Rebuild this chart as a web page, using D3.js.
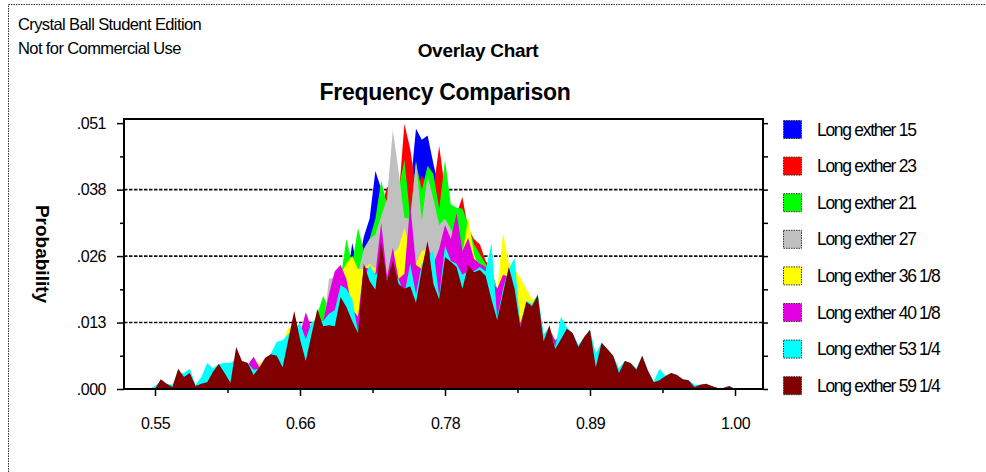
<!DOCTYPE html>
<html>
<head>
<meta charset="utf-8">
<script src="https://cdn.jsdelivr.net/npm/d3@7/dist/d3.min.js"></script>
<style>
  body { margin: 0; background: #fff; }
  svg { display: block; }
  text { font-family: Arial, "Liberation Sans", sans-serif; fill: #000; }
</style>
</head>
<body>
<svg id="chart" width="986" height="472"></svg>
<script>
// Bin centres of the frequency distributions (shared by every forecast)
const bins = [
  0.5455, 0.5500, 0.5545, 0.5590, 0.5635, 0.5680, 0.5725, 0.5770, 0.5815, 0.5860,
  0.5905, 0.5950, 0.5995, 0.6040, 0.6085, 0.6130, 0.6175, 0.6220, 0.6265, 0.6310,
  0.6355, 0.6400, 0.6445, 0.6490, 0.6535, 0.6580, 0.6625, 0.6670, 0.6715, 0.6760,
  0.6805, 0.6850, 0.6895, 0.6940, 0.6985, 0.7030, 0.7075, 0.7120, 0.7165, 0.7210,
  0.7255, 0.7300, 0.7345, 0.7390, 0.7435, 0.7480, 0.7525, 0.7570, 0.7615, 0.7660,
  0.7705, 0.7750, 0.7795, 0.7840, 0.7885, 0.7930, 0.7975, 0.8020, 0.8065, 0.8110,
  0.8155, 0.8200, 0.8245, 0.8290, 0.8335, 0.8380, 0.8425, 0.8470, 0.8515, 0.8560,
  0.8605, 0.8650, 0.8695, 0.8740, 0.8785, 0.8830, 0.8875, 0.8920, 0.8965, 0.9010,
  0.9055, 0.9100, 0.9145, 0.9190, 0.9235, 0.9280, 0.9325, 0.9370, 0.9415, 0.9460,
  0.9505, 0.9550, 0.9595, 0.9640, 0.9685, 0.9730, 0.9775, 0.9820, 0.9865, 0.9910,
  0.9955, 1.0000
];

// Probability per bin for each forecast
const longExther15 = [
  0, .0002, .0010, .0006, .0004, .0019, .0015, .0023, .0004, .0010,
  .0027, .0023, .0035, .0027, .0019, .0046, .0039, .0035, .0035, .0035,
  .0046, .0054, .0064, .0073, .0087, .0096, .0089, .0089, .0100, .0116,
  .0112, .0145, .0173, .0189, .0193, .0281, .0231, .0293, .0328, .0420,
  .0385, .0347, .0356, .0356, .0385, .0385, .0501, .0480, .0488, .0434,
  .0385, .0347, .0328, .0318, .0289, .0270, .0260, .0251, .0231, .0212,
  .0177, .0193, .0193, .0173, .0106, .0145, .0139, .0158, .0081, .0096,
  .0069, .0089, .0100, .0092, .0069, .0087, .0096, .0046, .0077, .0066,
  .0050, .0027, .0042, .0039, .0027, .0050, .0023, .0010, .0013, .0019,
  .0023, .0019, .0013, .0012, .0004, .0004, .0004, .0002, .0002, .0002,
  .0002, 0
];
const longExther23 = [
  0, .0004, .0012, .0006, .0004, .0023, .0019, .0027, .0004, .0012,
  .0031, .0027, .0039, .0031, .0023, .0050, .0042, .0039, .0042, .0039,
  .0050, .0058, .0069, .0077, .0092, .0106, .0096, .0096, .0106, .0119,
  .0116, .0150, .0183, .0193, .0212, .0212, .0231, .0251, .0270, .0289,
  .0347, .0389, .0385, .0366, .0511, .0462, .0385, .0410, .0395, .0385,
  .0468, .0385, .0347, .0337, .0370, .0308, .0289, .0279, .0247, .0231,
  .0189, .0208, .0208, .0183, .0116, .0154, .0150, .0170, .0087, .0106,
  .0073, .0096, .0106, .0100, .0073, .0092, .0100, .0050, .0081, .0069,
  .0054, .0031, .0046, .0042, .0031, .0054, .0027, .0012, .0015, .0021,
  .0027, .0023, .0015, .0013, .0004, .0004, .0004, .0004, .0002, .0002,
  .0004, 0
];
const longExther21 = [
  0, .0004, .0012, .0006, .0004, .0023, .0019, .0027, .0004, .0012,
  .0031, .0027, .0039, .0031, .0023, .0050, .0042, .0039, .0042, .0039,
  .0050, .0058, .0069, .0077, .0092, .0106, .0096, .0096, .0112, .0145,
  .0179, .0154, .0193, .0212, .0289, .0241, .0310, .0266, .0289, .0328,
  .0401, .0356, .0366, .0385, .0441, .0331, .0436, .0383, .0430, .0414,
  .0347, .0441, .0356, .0349, .0347, .0318, .0279, .0260, .0241, .0227,
  .0193, .0212, .0208, .0183, .0116, .0154, .0150, .0170, .0087, .0106,
  .0073, .0096, .0106, .0100, .0073, .0092, .0100, .0050, .0081, .0069,
  .0054, .0031, .0046, .0042, .0031, .0054, .0027, .0012, .0015, .0021,
  .0027, .0023, .0015, .0013, .0004, .0004, .0004, .0004, .0002, .0002,
  .0004, 0
];
const longExther27 = [
  0, .0004, .0012, .0006, .0004, .0023, .0019, .0027, .0004, .0012,
  .0031, .0027, .0039, .0031, .0023, .0050, .0042, .0039, .0042, .0039,
  .0050, .0058, .0069, .0077, .0092, .0106, .0096, .0096, .0106, .0119,
  .0116, .0212, .0216, .0222, .0222, .0241, .0222, .0270, .0289, .0297,
  .0333, .0366, .0499, .0420, .0330, .0328, .0439, .0324, .0410, .0366,
  .0316, .0328, .0308, .0289, .0270, .0260, .0251, .0241, .0231, .0216,
  .0183, .0208, .0212, .0183, .0116, .0154, .0150, .0170, .0087, .0106,
  .0073, .0096, .0106, .0100, .0073, .0092, .0100, .0050, .0081, .0069,
  .0054, .0031, .0046, .0042, .0031, .0054, .0027, .0012, .0015, .0021,
  .0027, .0023, .0015, .0013, .0004, .0004, .0004, .0004, .0002, .0002,
  .0004, 0
];
const longExther36 = [
  0, .0004, .0013, .0008, .0006, .0025, .0021, .0029, .0006, .0013,
  .0035, .0031, .0042, .0035, .0027, .0054, .0046, .0042, .0048, .0050,
  .0054, .0064, .0077, .0087, .0119, .0116, .0100, .0116, .0119, .0135,
  .0125, .0164, .0212, .0222, .0241, .0256, .0231, .0231, .0241, .0231,
  .0270, .0216, .0260, .0272, .0310, .0270, .0241, .0266, .0270, .0247,
  .0227, .0281, .0270, .0289, .0260, .0330, .0260, .0229, .0231, .0222,
  .0189, .0301, .0241, .0231, .0214, .0193, .0173, .0177, .0096, .0116,
  .0077, .0100, .0112, .0104, .0077, .0096, .0106, .0054, .0085, .0073,
  .0058, .0035, .0050, .0046, .0035, .0058, .0031, .0013, .0017, .0023,
  .0029, .0025, .0017, .0015, .0006, .0006, .0006, .0004, .0002, .0002,
  .0004, 0
];
const longExther40 = [
  0, .0004, .0015, .0008, .0006, .0027, .0023, .0031, .0006, .0015,
  .0039, .0035, .0046, .0039, .0029, .0058, .0050, .0046, .0062, .0042,
  .0054, .0064, .0077, .0087, .0100, .0116, .0106, .0148, .0116, .0135,
  .0131, .0183, .0227, .0239, .0212, .0154, .0139, .0235, .0231, .0222,
  .0320, .0216, .0272, .0212, .0222, .0356, .0239, .0231, .0279, .0241,
  .0270, .0316, .0289, .0339, .0266, .0291, .0251, .0241, .0235, .0212,
  .0193, .0220, .0216, .0193, .0127, .0164, .0154, .0173, .0096, .0116,
  .0094, .0106, .0112, .0104, .0077, .0096, .0106, .0058, .0085, .0073,
  .0058, .0035, .0050, .0046, .0035, .0058, .0031, .0013, .0019, .0023,
  .0029, .0025, .0017, .0015, .0006, .0006, .0006, .0004, .0002, .0002,
  .0004, 0
];
const longExther53 = [
  0, .0006, .0015, .0010, .0008, .0029, .0031, .0039, .0008, .0023,
  .0050, .0040, .0048, .0050, .0050, .0058, .0054, .0050, .0037, .0039,
  .0054, .0069, .0091, .0094, .0106, .0116, .0127, .0096, .0129, .0135,
  .0131, .0145, .0152, .0200, .0193, .0173, .0110, .0212, .0239, .0220,
  .0231, .0212, .0216, .0212, .0183, .0241, .0183, .0241, .0251, .0268,
  .0177, .0276, .0247, .0241, .0220, .0227, .0227, .0235, .0227, .0281,
  .0137, .0193, .0231, .0252, .0119, .0170, .0164, .0183, .0106, .0119,
  .0081, .0139, .0119, .0108, .0085, .0100, .0114, .0069, .0089, .0077,
  .0064, .0040, .0054, .0050, .0040, .0064, .0035, .0015, .0039, .0025,
  .0031, .0027, .0019, .0017, .0008, .0008, .0010, .0006, .0002, .0002,
  .0006, 0
];
const longExther59 = [
  0, 0, .0019, .0010, .0004, .0039, .0023, .0031, .0006, .0010,
  .0013, .0033, .0048, .0031, .0012, .0081, .0054, .0050, .0027, .0042,
  .0060, .0067, .0064, .0042, .0096, .0150, .0096, .0054, .0106, .0154,
  .0121, .0123, .0121, .0177, .0158, .0131, .0108, .0241, .0208, .0191,
  .0285, .0208, .0247, .0202, .0193, .0198, .0166, .0231, .0285, .0202,
  .0173, .0254, .0245, .0235, .0193, .0239, .0225, .0229, .0218, .0173,
  .0133, .0185, .0235, .0193, .0119, .0168, .0160, .0181, .0092, .0123,
  .0077, .0096, .0116, .0108, .0081, .0100, .0114, .0042, .0089, .0077,
  .0064, .0031, .0054, .0050, .0037, .0064, .0035, .0013, .0017, .0025,
  .0031, .0027, .0019, .0017, .0004, .0008, .0010, .0006, .0002, .0002,
  .0006, 0
];

const seriesNames = [
  "Long exther 15", "Long exther 23", "Long exther 21", "Long exther 27",
  "Long exther 36 1/8", "Long exther 40 1/8", "Long exther 53 1/4", "Long exther 59 1/4"
];
const seriesColors = ["#0000ff", "#ff0000", "#00ff00", "#c0c0c0", "#ffff00", "#e000e0", "#00ffff", "#800000"];
const seriesValues = [longExther15, longExther23, longExther21, longExther27,
                      longExther36, longExther40, longExther53, longExther59];

const xTicks = [0.55, 0.6625, 0.775, 0.8875, 1.00];
const xTickLabels = ["0.55", "0.66", "0.78", "0.89", "1.00"];
const yTicks = [0, 0.0128, 0.0256, 0.0384, 0.0512];
const yTickLabels = [".000", ".013", ".026", ".038", ".051"];

// ---- layout ----
const svg = d3.select("#chart");
const plot = { left: 124, right: 763, top: 119, bottom: 389 };

const x = d3.scaleLinear().domain([0.52595, 1.02172]).range([plot.left, plot.right]);
const y = d3.scaleLinear().domain([0, 0.0520]).range([plot.bottom, plot.top]);

// outer dotted frame of the chart window
svg.append("rect")
  .attr("x", 8.5).attr("y", 4.5).attr("width", 1000).attr("height", 500)
  .attr("fill", "none").attr("stroke", "#333").attr("stroke-width", 1)
  .attr("stroke-dasharray", "1.5,1");

// header texts
svg.append("text").attr("x", 18).attr("y", 30)
  .style("font-size", "16.5px").style("letter-spacing", "-0.6px")
  .text("Crystal Ball Student Edition");
svg.append("text").attr("x", 18).attr("y", 54)
  .style("font-size", "16.5px").style("letter-spacing", "-0.6px")
  .text("Not for Commercial Use");
svg.append("text").attr("x", 478).attr("y", 57).attr("text-anchor", "middle")
  .style("font-size", "19px").style("font-weight", "bold").style("letter-spacing", "-0.3px")
  .text("Overlay Chart");
svg.append("text").attr("x", 445).attr("y", 100).attr("text-anchor", "middle")
  .style("font-size", "23px").style("font-weight", "bold").style("letter-spacing", "-0.3px")
  .text("Frequency Comparison");

// y axis title
svg.append("text")
  .attr("transform", "translate(36,254) rotate(90)")
  .attr("text-anchor", "middle")
  .style("font-size", "19px").style("font-weight", "bold")
  .text("Probability");

// horizontal grid lines (behind the areas)
svg.append("g").selectAll("line")
  .data(yTicks.slice(1, 4))
  .join("line")
  .attr("x1", plot.left).attr("x2", plot.right)
  .attr("y1", d => y(d)).attr("y2", d => y(d))
  .attr("stroke", "#111").attr("stroke-width", 1.6)
  .attr("stroke-dasharray", "3.5,1.5");

// overlaid frequency areas, first forecast at the back
const area = d3.area()
  .x((d, i) => x(bins[i]))
  .y0(y(0))
  .y1(d => y(d));

svg.append("g").selectAll("path")
  .data(seriesValues)
  .join("path")
  .attr("d", d => area(d))
  .attr("fill", (d, i) => seriesColors[i]);

// axes
const midpoints = arr => d3.pairs(arr).map(([a, b]) => (a + b) / 2);

const axisStyle = g => {
  g.select(".domain").remove();
  g.attr("font-size", null).attr("font-family", null);
  g.selectAll(".tick line").attr("stroke", "#000").attr("stroke-width", 1.5);
  g.selectAll("text").style("font-size", "16px").style("letter-spacing", "-0.5px")
    .attr("fill", "#000");
};

svg.append("g").attr("transform", `translate(${plot.left},0)`)
  .call(d3.axisLeft(y).tickValues(yTicks).tickFormat((d, i) => yTickLabels[i])
    .tickSize(7).tickPadding(11))
  .call(axisStyle);
svg.append("g").attr("transform", `translate(${plot.left},0)`)
  .call(d3.axisLeft(y).tickValues(midpoints(yTicks)).tickFormat("").tickSize(4))
  .call(axisStyle);
svg.append("g").attr("transform", `translate(${plot.right},0)`)
  .call(d3.axisRight(y).tickValues(yTicks.concat(midpoints(yTicks))).tickFormat("").tickSize(5))
  .call(axisStyle);

svg.append("g").attr("transform", `translate(0,${plot.bottom})`)
  .call(d3.axisBottom(x).tickValues(xTicks).tickFormat((d, i) => xTickLabels[i])
    .tickSize(7).tickPadding(22))
  .call(axisStyle);
svg.append("g").attr("transform", `translate(0,${plot.bottom})`)
  .call(d3.axisBottom(x).tickValues(midpoints(xTicks)).tickFormat("").tickSize(4))
  .call(axisStyle);

// plot frame
svg.append("rect")
  .attr("x", plot.left).attr("y", plot.top)
  .attr("width", plot.right - plot.left).attr("height", plot.bottom - plot.top)
  .attr("fill", "none").attr("stroke", "#000").attr("stroke-width", 2);

// legend
const legend = svg.append("g").attr("transform", "translate(783,129)");
const item = legend.selectAll("g")
  .data(seriesNames)
  .join("g")
  .attr("transform", (d, i) => `translate(0,${i * 36.6})`);
item.append("rect")
  .attr("x", 0.5).attr("y", -8.5).attr("width", 18).attr("height", 18)
  .attr("fill", (d, i) => seriesColors[i])
  .attr("stroke", "#333").attr("stroke-width", 1).attr("stroke-dasharray", "1.5,1");
item.append("text")
  .attr("x", 34).attr("y", 6.5)
  .style("font-size", "17.5px").style("letter-spacing", "-1.3px")
  .text(d => d);
</script>
</body>
</html>
